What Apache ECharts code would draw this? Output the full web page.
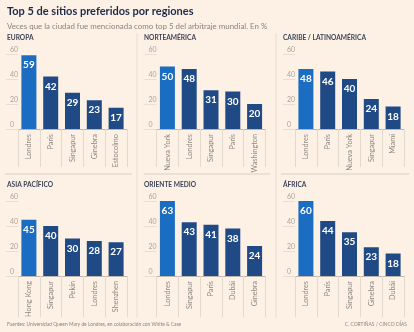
<!DOCTYPE html>
<html><head><meta charset="utf-8">
<script src="https://cdn.jsdelivr.net/npm/echarts@6/dist/echarts.min.js"></script>
<style>html,body{margin:0;padding:0;background:#fdf1e5;}#c{width:414px;height:332px;}</style>
</head><body><div id="c"></div>
<script>
const titleText = 'Top 5 de sitios preferidos por regiones';
const subtitleText = 'Veces que la ciudad fue mencionada como top 5 del arbitraje mundial. En %';
const sourceText = 'Fuentes: Universidad Queen Mary de Londres, en colaboración con White & Case';
const creditText = 'C. CORTIÑAS / CINCO DÍAS';
const yTicks = [0, 20, 40, 60];

const regionNames = ['EUROPA', 'NORTEAMÉRICA', 'CARIBE / LATINOAMÉRICA', 'ASIA PACÍFICO', 'ORIENTE MEDIO', 'ÁFRICA'];
const europaCats = ['Londres', 'París', 'Singapur', 'Ginebra', 'Estocolmo'];
const europaVals = [59, 42, 29, 23, 17];
const norteCats = ['Nueva York', 'Londres', 'Singapur', 'París', 'Washington'];
const norteVals = [50, 48, 31, 30, 20];
const caribeCats = ['Londres', 'París', 'Nueva York', 'Singapur', 'Miami'];
const caribeVals = [48, 46, 40, 24, 18];
const asiaCats = ['Hong Kong', 'Singapur', 'Pekín', 'Londres', 'Shenzhen'];
const asiaVals = [45, 40, 30, 28, 27];
const orienteCats = ['Londres', 'Singapur', 'París', 'Dubái', 'Ginebra'];
const orienteVals = [63, 43, 41, 38, 24];
const africaCats = ['Londres', 'París', 'Singapur', 'Ginebra', 'Dubái'];
const africaVals = [60, 44, 35, 23, 18];

const panelCats = [europaCats, norteCats, caribeCats, asiaCats, orienteCats, africaCats];
const panelVals = [europaVals, norteVals, caribeVals, asiaVals, orienteVals, africaVals];

const FONT = 'Lato, "Noto Sans", sans-serif';
const colLeft = [18, 156.5, 295];
const colTitleX = [7, 144, 283];
const rowTop = [54, 201];
const rowTitleY = [38, 185];
const tickLen = [38, 41];
const BRIGHT = '#1b6dc2';
const DARK = '#204a86';

const grids = [], xAxes = [], yAxes = [], series = [], graphics = [];
for (let i = 0; i < 6; i++) {
  const c = i % 3, r = Math.floor(i / 3);
  grids.push({left: colLeft[c], top: rowTop[r], width: 109, height: 75});
  xAxes.push({
    type: 'category', gridIndex: i, data: panelCats[i],
    axisLine: {show: true, lineStyle: {color: '#bdb6ae', width: 1}},
    axisTick: {show: true, length: tickLen[r], lineStyle: {color: '#e2d9cf'}},
    axisLabel: {rotate: 90, fontSize: 7.3, color: '#8e8882', margin: 5, fontFamily: FONT}
  });
  yAxes.push({
    type: 'value', gridIndex: i, min: yTicks[0], max: yTicks[yTicks.length - 1], interval: 20,
    splitLine: {show: false}, axisLine: {show: false},
    axisTick: {show: true, length: 12, lineStyle: {color: '#e6ddd3'}},
    axisLabel: {fontSize: 7, color: '#aaa39c', align: 'left', verticalAlign: 'bottom', margin: 8, padding: [0, 0, 1, 0], fontFamily: FONT}
  });
  series.push({
    type: 'bar', xAxisIndex: i, yAxisIndex: i, barWidth: 15,
    data: panelVals[i].map((v, k) => ({value: v, itemStyle: {color: k === 0 ? BRIGHT : DARK}})),
    label: {show: true, position: 'insideTop', distance: 5, color: '#fff', fontSize: 10, fontWeight: 'bold', fontFamily: FONT},
    silent: true, animation: false
  });
  graphics.push({type: 'text', left: colTitleX[c], top: rowTitleY[r] - 4,
    style: {text: regionNames[i], fontSize: 6.6, fontWeight: 'bold', fill: '#3c4459', fontFamily: FONT}});
}
// separators
graphics.push({type: 'line', shape: {x1: 137, y1: 33, x2: 137, y2: 318}, style: {stroke: '#e6ddd3', lineWidth: 1}});
graphics.push({type: 'line', shape: {x1: 276, y1: 33, x2: 276, y2: 318}, style: {stroke: '#e6ddd3', lineWidth: 1}});
graphics.push({type: 'line', shape: {x1: 5, y1: 174, x2: 132, y2: 174}, style: {stroke: '#e3dad0', lineWidth: 1.5}});
graphics.push({type: 'line', shape: {x1: 144, y1: 174, x2: 270, y2: 174}, style: {stroke: '#e3dad0', lineWidth: 1.5}});
graphics.push({type: 'line', shape: {x1: 281, y1: 174, x2: 409, y2: 174}, style: {stroke: '#e3dad0', lineWidth: 1.5}});
graphics.push({type: 'text', left: 7, top: 6, style: {text: titleText, fontSize: 11, fontWeight: 'bold', fill: '#1d2b4b', fontFamily: FONT}});
graphics.push({type: 'text', left: 7, top: 22, style: {text: subtitleText, fontSize: 7.9, fill: '#8a847e', fontFamily: FONT}});
graphics.push({type: 'text', left: 7, top: 322, style: {text: sourceText, fontSize: 4.9, fill: '#8a847e', fontFamily: FONT}});
graphics.push({type: 'text', right: 7, top: 322, style: {text: creditText, fontSize: 4.9, fill: '#8a847e', fontFamily: FONT}});

const chart = echarts.init(document.getElementById('c'), null, {renderer: 'canvas'});
chart.setOption({
  backgroundColor: '#fdf1e5', animation: false,
  grid: grids, xAxis: xAxes, yAxis: yAxes, series: series, graphic: graphics
});
</script></body></html>
